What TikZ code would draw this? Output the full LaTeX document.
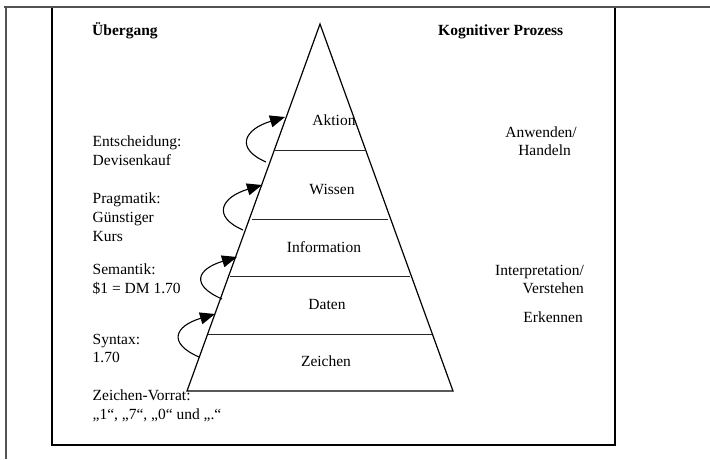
\documentclass[tikz,border=0pt]{standalone}
\usepackage{fontspec}
\setmainfont{Liberation Serif}
\usetikzlibrary{arrows.meta}
\begin{document}
\begin{tikzpicture}[x=1pt,y=-1pt,
  lbl/.style={inner sep=0pt,font=\fontsize{15.5}{19}\selectfont},
  hdr/.style={inner sep=0pt,font=\fontsize{15.5}{19}\selectfont\bfseries},
  frameg/.style={draw=black!68,line width=2.6pt},
  frameb/.style={draw=black,line width=1.3pt},
  pyr/.style={draw=black,line width=1.2pt,line join=miter},
  divl/.style={draw=black!85,line width=1.3pt},
  trans/.style={draw=black,line width=1.1pt,-{Triangle[length=15pt,width=12pt]}}]
\useasboundingbox (0,0) rectangle (710,459);
% frames
\draw[frameg] (4,7) -- (710,7);
\draw[frameg] (6,6) -- (6,459);
\draw[frameb] (52,8) -- (52,445) -- (615,445) -- (615,8);
% pyramid
\coordinate (apex) at (320,24);
\coordinate (bl) at (187,391);
\coordinate (br) at (453,391);
\draw[pyr] (bl) -- (apex) -- (br) -- cycle;
\coordinate (d1l) at (274,150.7); \coordinate (d1r) at (366,150.7);
\coordinate (d2l) at (252,219.3); \coordinate (d2r) at (388,219.3);
\coordinate (d3l) at (230,276.7); \coordinate (d3r) at (410,276.7);
\coordinate (d4l) at (208,334.3); \coordinate (d4r) at (432,334.3);
\draw[divl] (d1l) -- (d1r);
\draw[divl] (d2l) -- (d2r);
\draw[divl] (d3l) -- (d3r);
\draw[divl] (d4l) -- (d4r);
% level labels
\node[lbl,anchor=base] (aktion) at (334,125) {Aktion};
\node[lbl,anchor=base] (wissen) at (332,194) {Wissen};
\node[lbl,anchor=base] (info) at (324,252) {Information};
\node[lbl,anchor=base] (daten) at (327,309) {Daten};
\node[lbl,anchor=base] (zeichen) at (326,366) {Zeichen};
% headers
\node[hdr,anchor=base west] (uebergang) at (92,35) {Übergang};
\node[hdr,anchor=base west] (kogn) at (438,35) {Kognitiver Prozess};
% left labels
\node[lbl,anchor=base west] (l1a) at (92.5,146) {Entscheidung:};
\node[lbl,anchor=base west] (l1b) at (92.5,165) {Devisenkauf};
\node[lbl,anchor=base west] (l2a) at (92.5,203) {Pragmatik:};
\node[lbl,anchor=base west] (l2b) at (92.5,222) {Günstiger};
\node[lbl,anchor=base west] (l2c) at (92.5,241) {Kurs};
\node[lbl,anchor=base west] (l3a) at (92.5,274) {Semantik:};
\node[lbl,anchor=base west] (l3b) at (92.5,293) {\$1 = DM 1.70};
\node[lbl,anchor=base west] (l4a) at (92.5,344) {Syntax:};
\node[lbl,anchor=base west] (l4b) at (92.5,362) {1.70};
\node[lbl,anchor=base west] (l5a) at (92.5,400) {Zeichen-Vorrat:};
\node[lbl,anchor=base west] (l5b) at (92.5,419) {„1“, „7“, „0“ und „.“};
% right labels
\node[lbl,anchor=base east] (r1a) at (577,137) {Anwenden/};
\node[lbl,anchor=base east] (r1b) at (571,155) {Handeln};
\node[lbl,anchor=base east] (r2a) at (584,275) {Interpretation/};
\node[lbl,anchor=base east] (r2b) at (584,293) {Verstehen};
\node[lbl,anchor=base east] (r3) at (583,322) {Erkennen};
% transition arrows
\coordinate (s1) at (266,162); \coordinate (t1) at (285,117);
\coordinate (s2) at (243,230); \coordinate (t2) at (262,185);
\coordinate (s3) at (222,299); \coordinate (t3) at (237,257);
\coordinate (s4) at (199,357); \coordinate (t4) at (215,314);
\draw[trans] (s1) .. controls ([shift={(-32,-14)}]s1) and ([shift={(-40,12)}]t1) .. (t1);
\draw[trans] (s2) .. controls ([shift={(-32,-14)}]s2) and ([shift={(-40,12)}]t2) .. (t2);
\draw[trans] (s3) .. controls ([shift={(-32,-14)}]s3) and ([shift={(-40,12)}]t3) .. (t3);
\draw[trans] (s4) .. controls ([shift={(-32,-14)}]s4) and ([shift={(-40,12)}]t4) .. (t4);
\end{tikzpicture}
\end{document}
